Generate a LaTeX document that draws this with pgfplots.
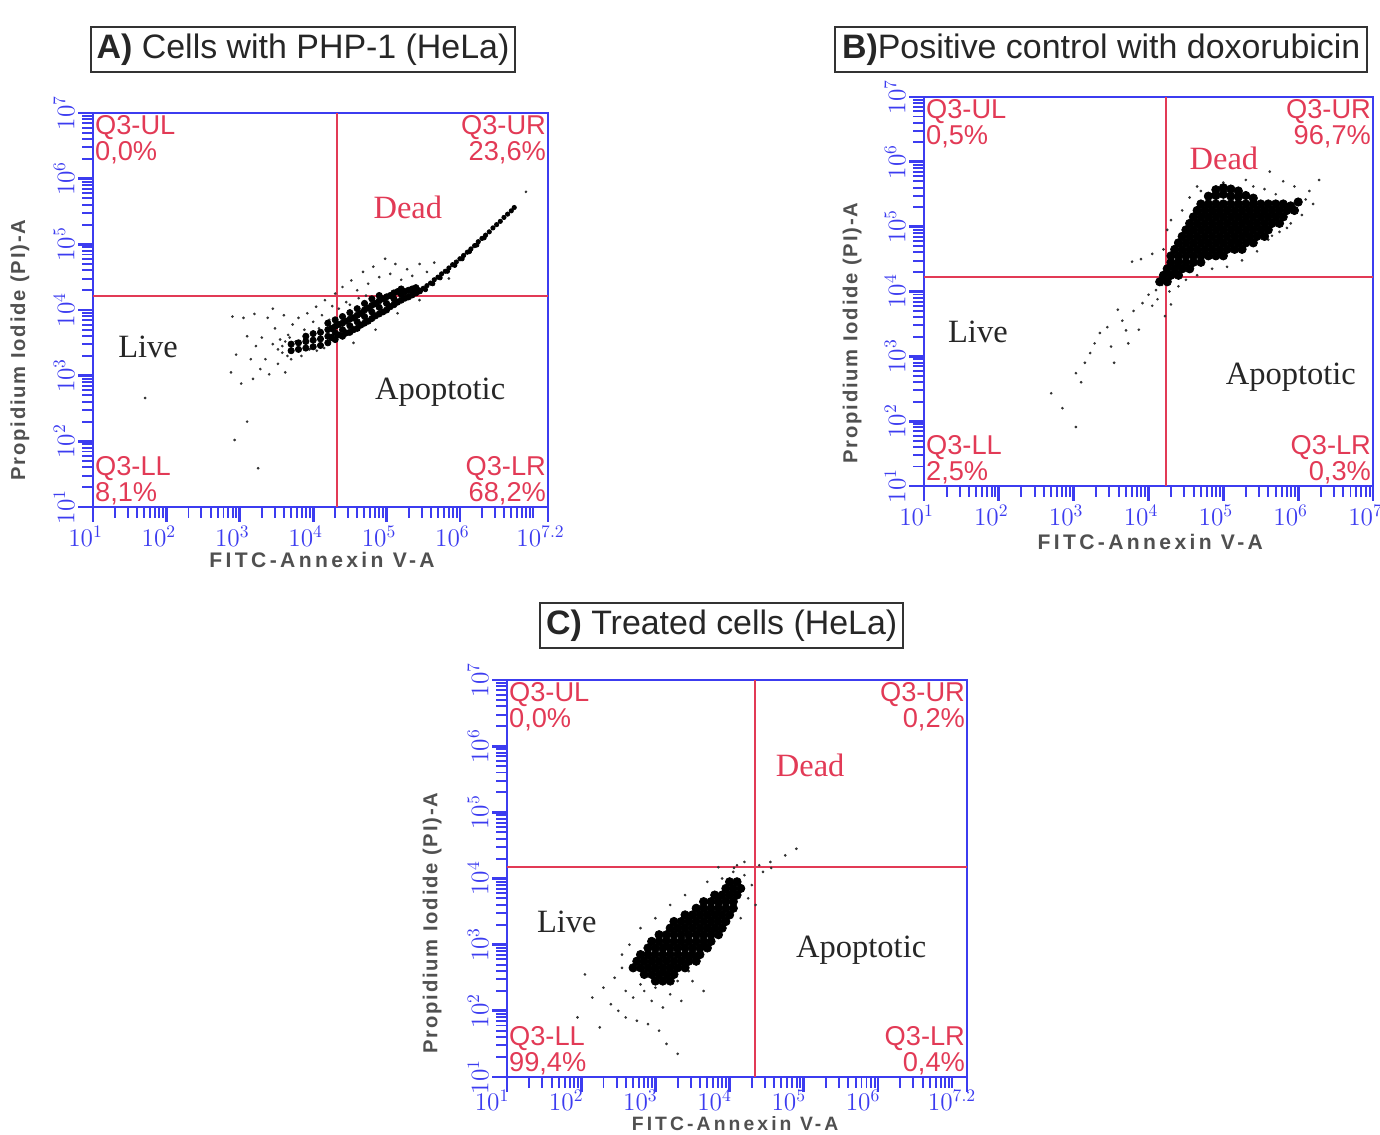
\documentclass[border=0pt]{standalone}
\usepackage{pgfplots}
\pgfplotsset{compat=1.18}
\usepackage{fontspec}
\setmainfont{Liberation Sans}
\newfontfamily\tnr{Liberation Serif}
\definecolor{axisblue}{HTML}{3C3CF0}
\definecolor{qred}{HTML}{E23A56}
\definecolor{lblgray}{HTML}{505050}

\pgfplotsset{
  facs/.style={
    scale only axis,
    anchor=south west,
    xmin=1, ymin=1, ymax=7,
    axis line style={axisblue, line width=1.3pt},
    tick align=outside,
    xtick pos=left, ytick pos=left,
    major tick length=0.3cm, minor tick length=0.22cm,
    every major tick/.append style={axisblue, line width=1.6pt},
    every minor tick/.append style={axisblue, line width=1.1pt},
    ytick={1,...,7},
    yticklabels={$10^{1}$,$10^{2}$,$10^{3}$,$10^{4}$,$10^{5}$,$10^{6}$,$10^{7}$},
    minor ytick={1.301,1.477,1.602,1.699,1.778,1.845,1.903,1.954,2.301,2.477,2.602,2.699,2.778,2.845,2.903,2.954,3.301,3.477,3.602,3.699,3.778,3.845,3.903,3.954,4.301,4.477,4.602,4.699,4.778,4.845,4.903,4.954,5.301,5.477,5.602,5.699,5.778,5.845,5.903,5.954,6.301,6.477,6.602,6.699,6.778,6.845,6.903,6.954},
    minor xtick={1.301,1.477,1.602,1.699,1.778,1.845,1.903,1.954,2.301,2.477,2.602,2.699,2.778,2.845,2.903,2.954,3.301,3.477,3.602,3.699,3.778,3.845,3.903,3.954,4.301,4.477,4.602,4.699,4.778,4.845,4.903,4.954,5.301,5.477,5.602,5.699,5.778,5.845,5.903,5.954,6.301,6.477,6.602,6.699,6.778,6.845,6.903,6.954,7},
    tick label style={text=axisblue, font=\fontsize{14}{14}\selectfont},
    yticklabel style={rotate=90, anchor=south, yshift=-0.05cm},
    xticklabel style={xshift=-0.15cm, yshift=0.05cm},
  },
  facs72/.style={facs, xmax=7.2, xtick={1,2,3,4,5,6,7.2},
    xticklabels={$10^{1}$,$10^{2}$,$10^{3}$,$10^{4}$,$10^{5}$,$10^{6}$,$10^{7.2}$}},
  facs7/.style={facs, xmax=7, xtick={1,...,7},
    xticklabels={$10^{1}$,$10^{2}$,$10^{3}$,$10^{4}$,$10^{5}$,$10^{6}$,$10^{7}$}},
  sparse/.style={only marks, mark=*, mark size=0.55pt, black!80},
  core/.style={only marks, mark=*, mark size=#1, black},
}
\tikzset{
  qlab/.style={text=qred, font=\fontsize{15.5}{15}\selectfont, inner sep=1pt},
  gate/.style={qred, line width=1.1pt},
}

% quadrant percentages
\newcommand{\quads}[4]{%
  \node[qlab, anchor=north west, align=left] at (rel axis cs:0,1) {Q3-UL\\#1};
  \node[qlab, anchor=north east, align=right] at (rel axis cs:1,1) {Q3-UR\\#2};
  \node[qlab, anchor=south west, align=left] at (rel axis cs:0,0) {Q3-LL\\#3};
  \node[qlab, anchor=south east, align=right] at (rel axis cs:1,0) {Q3-LR\\#4};
}
% Dead / Live / Apoptotic positions
\newcommand{\states}[6]{%
  \node[text=qred, font=\tnr\fontsize{18.5}{18}\selectfont] at (rel axis cs:#1,#2) {Dead};
  \node[text=black!85, font=\tnr\fontsize{18.5}{18}\selectfont] at (rel axis cs:#3,#4) {Live};
  \node[text=black!85, font=\tnr\fontsize{18.5}{18}\selectfont] at (rel axis cs:#5,#6) {Apoptotic};
}

\begin{document}
\begin{tikzpicture}
\useasboundingbox (0,0) rectangle (27.6,22.7);

% ---------------- A) Cells with PHP-1 ----------------
\begin{axis}[facs72, at={(1.86cm,12.56cm)}, width=9.1cm, height=7.88cm]
\addplot[sparse] coordinates {
(1.71,2.66) (2.93,2.02) (3.25,1.59) (3.10,2.30) (2.88,3.05) (2.95,3.32) (3.02,2.88) (3.10,3.60)
(3.15,3.25) (3.18,2.95) (3.22,3.45) (3.28,3.10) (3.30,3.58) (3.35,3.25) (3.38,3.88) (3.40,3.02)
(3.45,3.48) (3.48,3.72) (3.52,3.18) (3.55,3.55) (3.58,3.35) (3.60,3.92) (3.62,3.05) (3.66,3.62)
(3.70,3.25) (3.72,3.78) (3.76,3.52) (3.80,3.88) (3.84,3.30) (3.88,3.70) (3.92,3.95) (3.95,3.40)
(4.00,3.82) (4.04,4.05) (4.08,3.72) (4.12,3.92) (4.16,4.15) (4.22,3.85) (4.26,4.06) (4.30,4.25)
(2.90,3.90) (3.05,3.88) (3.20,3.94) (3.45,4.02) (4.40,4.35) (4.52,4.45) (4.60,4.30) (4.68,4.58)
(4.75,4.40) (4.82,4.66) (4.90,4.50) (4.98,4.78) (5.05,4.55) (5.12,4.70) (5.20,4.46) (5.28,4.62)
(5.35,4.52) (5.45,4.70) (5.55,4.58) (5.65,4.72) (6.90,5.80) (4.55,3.50) (4.85,3.70) (5.15,3.95)
(5.45,4.15) (5.85,4.48) (3.58,3.45) (3.65,3.30) (3.62,3.52) (3.52,3.40) (3.68,3.58) (4.05,3.38)
(4.15,3.42) (4.45,4.12) (4.62,4.18) (4.72,4.22) (4.35,4.02) (4.50,4.08)
};
\addplot[core=1.8pt] coordinates {
(3.70,3.38) (3.70,3.48) (3.80,3.40) (3.80,3.50) (3.90,3.42) (3.90,3.52) (3.90,3.60)
(4.00,3.44) (4.00,3.54) (4.00,3.64) (4.10,3.46) (4.10,3.56) (4.10,3.66)
(4.20,3.50) (4.20,3.60) (4.20,3.70) (4.20,3.80) (4.30,3.55) (4.30,3.65) (4.30,3.75) (4.30,3.85)
(4.40,3.60) (4.40,3.70) (4.40,3.80) (4.40,3.90) (4.50,3.66) (4.50,3.76) (4.50,3.86) (4.50,3.96)
(4.60,3.72) (4.60,3.82) (4.60,3.92) (4.60,4.02) (4.70,3.80) (4.70,3.90) (4.70,4.00) (4.70,4.10)
(4.80,3.87) (4.80,3.97) (4.80,4.07) (4.80,4.17) (4.90,3.94) (4.90,4.04) (4.90,4.14) (4.90,4.22)
(5.00,4.00) (5.00,4.10) (5.00,4.20) (5.10,4.08) (5.10,4.17) (5.10,4.26)
(5.20,4.15) (5.20,4.24) (5.20,4.32) (5.30,4.20) (5.30,4.30) (5.40,4.26) (5.40,4.34)
(4.25,3.58) (4.25,3.72) (4.35,3.62) (4.35,3.78) (4.45,3.65) (4.45,3.83) (4.55,3.70) (4.55,3.88)
(4.65,3.77) (4.65,3.95) (4.75,3.83) (4.75,4.03) (4.85,3.91) (4.85,4.10) (4.95,3.97) (4.95,4.17)
(5.05,4.05) (5.05,4.22) (5.15,4.12) (5.15,4.28) (5.25,4.18) (5.25,4.28) (5.35,4.23) (5.35,4.32) (5.45,4.29)
};
\addplot[core=1.25pt] coordinates {
(5.50,4.33) (5.55,4.37) (5.60,4.41) (5.65,4.46) (5.70,4.50) (5.75,4.55) (5.80,4.59) (5.85,4.64)
(5.90,4.69) (5.95,4.73) (6.00,4.78) (6.05,4.83) (6.10,4.88) (6.15,4.93) (6.20,4.98) (6.25,5.04)
(6.30,5.09) (6.35,5.14) (6.40,5.19) (6.45,5.25) (6.50,5.30) (6.55,5.35) (6.60,5.41) (6.65,5.46)
(6.70,5.51) (6.74,5.56) (5.53,4.31) (5.63,4.40) (5.73,4.49) (5.83,4.59) (5.93,4.68) (6.03,4.78)
(6.13,4.89) (6.23,4.99) (6.33,5.10)
};
\draw[gate] (axis cs:4.33,1) -- (axis cs:4.33,7);
\draw[gate] (axis cs:1,4.21) -- (axis cs:7.2,4.21);
\quads{0,0\%}{23,6\%}{8,1\%}{68,2\%}
\states{0.692}{0.761}{0.121}{0.406}{0.763}{0.292}
\end{axis}

% ---------------- B) Positive control ----------------
\begin{axis}[facs7, at={(18.48cm,12.98cm)}, width=8.98cm, height=7.78cm]
\addplot[sparse] coordinates {
(2.70,2.43) (3.03,1.91) (3.03,2.74) (3.22,3.05) (3.35,3.36) (3.54,2.90) (3.59,3.72) (3.73,3.20)
(3.87,3.41) (3.78,4.46) (3.90,4.50) (2.85,2.20) (3.10,2.60) (3.15,2.90) (3.28,3.20) (3.45,3.45)
(3.50,3.15) (3.65,3.55) (3.70,3.40) (3.80,3.70) (3.92,3.82) (4.00,3.95) (4.05,3.78) (4.10,4.02)
(4.12,3.88) (4.18,4.10) (4.28,4.00) (4.30,3.80) (4.22,3.62) (4.05,4.58) (4.20,4.65) (4.25,4.95)
(4.30,5.10) (4.55,5.45) (4.65,5.62) (5.00,5.68) (5.30,5.72) (5.62,5.85) (5.80,5.70) (5.95,5.62)
(6.15,5.55) (6.28,5.72) (6.10,5.42) (6.20,5.35) (5.90,5.05) (5.75,4.92) (5.60,4.80) (5.45,4.62)
(5.25,4.48) (5.05,4.38) (4.85,4.35) (4.65,4.25) (4.50,4.18) (4.40,4.08) (4.35,4.28) (4.60,4.42)
(5.40,5.62) (5.55,5.58) (4.70,5.55) (5.70,5.50) (6.05,5.18) (5.85,4.98) (5.65,4.86) (4.45,5.25)
};
\addplot[core=2.4pt] coordinates {
(4.90,5.57) (5.00,5.60) (5.10,5.58) (5.20,5.55)
(4.80,5.47) (4.90,5.48) (5.00,5.50) (5.10,5.47) (5.20,5.46) (5.30,5.48) (5.40,5.44)
(4.70,5.35) (4.80,5.35) (4.90,5.35) (5.00,5.35) (5.10,5.35) (5.20,5.35) (5.30,5.35) (5.40,5.35)
(5.50,5.35) (5.60,5.35) (5.70,5.35) (5.80,5.35) (5.90,5.32) (6.00,5.38)
(4.65,5.25) (4.75,5.25) (4.85,5.25) (4.95,5.25) (5.05,5.25) (5.15,5.25) (5.25,5.25) (5.35,5.25)
(5.45,5.25) (5.55,5.25) (5.65,5.25) (5.75,5.25) (5.85,5.25) (5.95,5.25)
(4.60,5.15) (4.70,5.15) (4.80,5.15) (4.90,5.15) (5.00,5.15) (5.10,5.15) (5.20,5.15) (5.30,5.15)
(5.40,5.15) (5.50,5.15) (5.60,5.15) (5.70,5.15) (5.80,5.15)
(4.55,5.05) (4.65,5.05) (4.75,5.05) (4.85,5.05) (4.95,5.05) (5.05,5.05) (5.15,5.05) (5.25,5.05)
(5.35,5.05) (5.45,5.05) (5.55,5.05) (5.65,5.05) (5.75,5.05)
(4.50,4.95) (4.60,4.95) (4.70,4.95) (4.80,4.95) (4.90,4.95) (5.00,4.95) (5.10,4.95) (5.20,4.95)
(5.30,4.95) (5.40,4.95) (5.50,4.95) (5.60,4.95)
(4.45,4.85) (4.55,4.85) (4.65,4.85) (4.75,4.85) (4.85,4.85) (4.95,4.85) (5.05,4.85) (5.15,4.85)
(5.25,4.85) (5.35,4.85) (5.45,4.85) (5.55,4.85)
(4.40,4.75) (4.50,4.75) (4.60,4.75) (4.70,4.75) (4.80,4.75) (4.90,4.75) (5.00,4.75) (5.10,4.75)
(5.20,4.75) (5.30,4.75) (5.40,4.75)
(4.35,4.65) (4.45,4.65) (4.55,4.65) (4.65,4.65) (4.75,4.65) (4.85,4.65) (4.95,4.65) (5.05,4.65)
(5.15,4.65) (5.25,4.65)
(4.30,4.55) (4.40,4.55) (4.50,4.55) (4.60,4.55) (4.70,4.55) (4.80,4.55) (4.90,4.55) (5.00,4.55)
(4.30,4.45) (4.40,4.45) (4.50,4.45) (4.60,4.45) (4.70,4.45)
(4.25,4.35) (4.35,4.35) (4.45,4.35) (4.55,4.35)
(4.20,4.25) (4.30,4.25) (4.40,4.25) (4.15,4.15) (4.25,4.15)
};
\draw[gate] (axis cs:4.23,1) -- (axis cs:4.23,7);
\draw[gate] (axis cs:1,4.22) -- (axis cs:7,4.22);
\quads{0,5\%}{96,7\%}{2,5\%}{0,3\%}
\states{0.668}{0.843}{0.12}{0.396}{0.817}{0.28}
\end{axis}

% ---------------- C) Treated cells ----------------
\begin{axis}[facs72, at={(10.14cm,1.16cm)}, width=9.2cm, height=7.94cm,
  xticklabel style={xshift=-0.15cm, yshift=0.12cm}]
\addplot[sparse] coordinates {
(2.05,2.55) (2.15,2.20) (1.95,1.90) (2.25,1.75) (2.30,2.35) (2.40,2.10) (2.45,2.50) (2.50,2.00)
(2.55,2.65) (2.55,2.85) (2.60,2.30) (2.60,1.90) (2.65,3.00) (2.70,2.20) (2.75,1.85) (2.80,2.40)
(2.85,2.30) (2.80,3.25) (2.90,1.80) (2.95,2.15) (3.00,2.35) (3.00,3.40) (3.05,1.70) (3.10,2.05)
(3.15,1.50) (3.20,2.25) (3.20,3.60) (3.30,2.45) (3.30,1.35) (3.35,2.15) (3.40,3.75) (3.45,2.60)
(3.50,2.45) (3.60,2.80) (3.65,2.30) (3.70,3.00) (3.70,3.95) (3.80,3.20) (3.85,4.17) (3.90,4.00)
(3.95,3.35) (4.05,4.10) (4.15,3.40) (4.20,4.05) (4.20,4.25) (4.25,3.70) (4.30,3.90) (4.35,3.60)
(4.45,4.10) (4.55,4.25) (4.75,4.35) (4.90,4.45) (4.10,4.20) (4.40,4.20) (4.06,4.16) (4.56,4.16)
};
\addplot[core=2.4pt] coordinates {
(4.00,3.95) (4.10,3.95)
(3.95,3.85) (4.05,3.85) (4.15,3.85)
(3.80,3.75) (3.90,3.75) (4.00,3.75) (4.10,3.75)
(3.65,3.65) (3.75,3.65) (3.85,3.65) (3.95,3.65) (4.05,3.65)
(3.55,3.55) (3.65,3.55) (3.75,3.55) (3.85,3.55) (3.95,3.55) (4.05,3.55)
(3.40,3.45) (3.50,3.45) (3.60,3.45) (3.70,3.45) (3.80,3.45) (3.90,3.45) (4.00,3.45)
(3.25,3.35) (3.35,3.35) (3.45,3.35) (3.55,3.35) (3.65,3.35) (3.75,3.35) (3.85,3.35) (3.95,3.35)
(3.20,3.25) (3.30,3.25) (3.40,3.25) (3.50,3.25) (3.60,3.25) (3.70,3.25) (3.80,3.25) (3.90,3.25)
(3.05,3.15) (3.15,3.15) (3.25,3.15) (3.35,3.15) (3.45,3.15) (3.55,3.15) (3.65,3.15) (3.75,3.15) (3.85,3.15)
(2.95,3.05) (3.05,3.05) (3.15,3.05) (3.25,3.05) (3.35,3.05) (3.45,3.05) (3.55,3.05) (3.65,3.05) (3.75,3.05)
(2.90,2.95) (3.00,2.95) (3.10,2.95) (3.20,2.95) (3.30,2.95) (3.40,2.95) (3.50,2.95) (3.60,2.95) (3.70,2.95)
(2.80,2.85) (2.90,2.85) (3.00,2.85) (3.10,2.85) (3.20,2.85) (3.30,2.85) (3.40,2.85) (3.50,2.85) (3.60,2.85)
(2.75,2.75) (2.85,2.75) (2.95,2.75) (3.05,2.75) (3.15,2.75) (3.25,2.75) (3.35,2.75) (3.45,2.75) (3.55,2.75)
(2.70,2.65) (2.80,2.65) (2.90,2.65) (3.00,2.65) (3.10,2.65) (3.20,2.65) (3.30,2.65) (3.40,2.65)
(2.85,2.55) (2.95,2.55) (3.05,2.55) (3.15,2.55) (3.25,2.55)
(3.00,2.45) (3.10,2.45) (3.20,2.45)
};
\draw[gate] (axis cs:4.34,1) -- (axis cs:4.34,7);
\draw[gate] (axis cs:1,4.17) -- (axis cs:7.2,4.17);
\quads{0,0\%}{0,2\%}{99,4\%}{0,4\%}
\states{0.659}{0.786}{0.13}{0.39}{0.77}{0.32}
\end{axis}

% titles and axis labels, placed in reference pixel units
\begin{scope}[x=0.02cm, y=-0.02cm, yshift=22.7cm]
\tikzset{ttl/.style={draw=black!80, line width=1.3pt, minimum height=0.9cm, inner sep=2pt,
  font=\fontsize{19.3}{19}\selectfont, text=black!85}}
\node[ttl, minimum width=8.48cm] at (303,49.5) {\textbf{A)} Cells with PHP-1 (HeLa)};
\node[ttl, minimum width=10.64cm] at (1101,49.5) {\textbf{B)}Positive control with doxorubicin};
\node[ttl, minimum width=7.26cm] at (721.5,625.5) {\textbf{C)} Treated cells (HeLa)};
\tikzset{xl/.style={text=lblgray, font=\fontsize{12}{12}\selectfont\bfseries\addfontfeatures{LetterSpace=16}},
  yl/.style={text=lblgray, rotate=90, font=\fontsize{11.5}{12}\selectfont\bfseries\addfontfeatures{LetterSpace=9}}}
\node[xl] at (322,560) {FITC-Annexin V-A};
\node[xl] at (1150,542) {FITC-Annexin V-A};
\node[xl, inner sep=0pt, font=\fontsize{11}{11}\selectfont\bfseries\addfontfeatures{LetterSpace=16}] at (735,1123) {FITC-Annexin V-A};
\node[yl] at (20,350) {Propidium Iodide (PI)-A};
\node[yl] at (852,333) {Propidium Iodide (PI)-A};
\node[yl] at (432,923) {Propidium Iodide (PI)-A};
\end{scope}
\end{tikzpicture}
\end{document}
